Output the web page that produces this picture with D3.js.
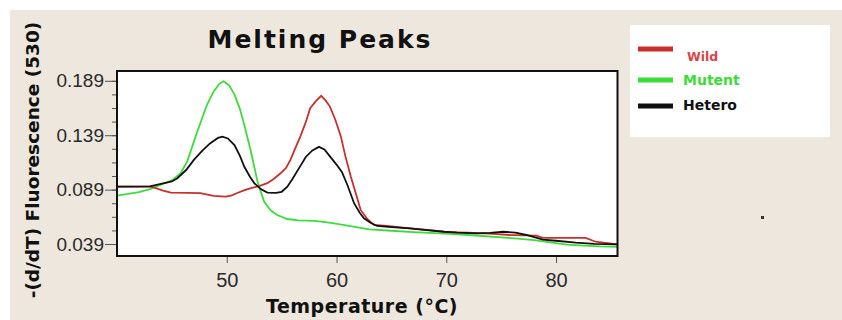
<!DOCTYPE html>
<html lang="en">
<head>
  <meta charset="UTF-8">
  <title>Melting Peaks</title>
  <script src="https://d3js.org/d3.v7.min.js"></script>
  <style>
    body { margin: 0; background: #fff; }
    .tick-label { font-family: "Liberation Sans", Arial, sans-serif; fill: #2a2a2a; }
    .bold { font-family: "DejaVu Sans", Verdana, sans-serif; font-weight: bold; }
  </style>
</head>
<body>
  <svg width="842" height="320"></svg>

  <script>
    // Temperature (°C) / -(d/dT) readings for each sample
    const wildT = [40, 43, 43.4, 44.2, 44.9, 46.5, 47.6, 48.8, 49.9, 50.4, 50.9, 51.5, 52.2, 53, 53.7, 54.3, 54.9, 55.4, 55.8, 56.2, 56.7, 57.2, 57.6, 58.1, 58.6, 59, 59.4, 59.9, 60.4, 60.8, 61.3, 61.8, 62.2, 62.8, 63.4, 64.6, 66.7, 68, 69.8, 71, 72, 74, 75.8, 77, 78.2, 78.8, 81, 82.7, 83.6, 85.6];
    const wildV = [0.0917, 0.0918, 0.0908, 0.0880, 0.0862, 0.0860, 0.0857, 0.0832, 0.0825, 0.0835, 0.0857, 0.0880, 0.0903, 0.0925, 0.0949, 0.0990, 0.1040, 0.1090, 0.1163, 0.1260, 0.1377, 0.1510, 0.1639, 0.1700, 0.1752, 0.1710, 0.1653, 0.1530, 0.1377, 0.1200, 0.1010, 0.0840, 0.0703, 0.0620, 0.0565, 0.0556, 0.0534, 0.0522, 0.0503, 0.0498, 0.0494, 0.0485, 0.0473, 0.0470, 0.0468, 0.0447, 0.0447, 0.0447, 0.0411, 0.0387];

    const mutentT = [40, 41, 42, 43, 44, 45, 45.8, 46.4, 47.3, 48.2, 48.8, 49.3, 49.7, 50.2, 50.7, 51.2, 51.6, 52.2, 52.8, 53.4, 54, 54.6, 55.5, 56.5, 58, 59.5, 61, 63, 65, 67, 69, 71, 73, 75, 76.5, 78, 79.5, 81, 82.5, 84, 85.6];
    const mutentV = [0.0835, 0.0850, 0.0868, 0.0895, 0.0935, 0.0975, 0.1040, 0.1150, 0.1420, 0.1670, 0.1790, 0.1860, 0.1885, 0.1850, 0.1765, 0.1630, 0.1485, 0.1240, 0.0965, 0.0780, 0.0700, 0.0657, 0.0620, 0.0608, 0.0602, 0.0585, 0.0560, 0.0525, 0.0512, 0.0500, 0.0490, 0.0478, 0.0466, 0.0452, 0.0440, 0.0425, 0.0405, 0.0385, 0.0375, 0.0368, 0.0365];

    const heteroT = [40, 43, 44, 45, 45.5, 46.3, 47, 47.8, 48.5, 49.2, 49.6, 50.1, 50.7, 51.2, 51.6, 52.1, 52.5, 53.1, 53.7, 54.5, 55, 55.5, 56, 56.6, 57.2, 57.8, 58.4, 58.9, 59.4, 60, 60.5, 61, 61.6, 62.1, 62.5, 63.1, 63.7, 65, 66.7, 68, 69.8, 71, 72.8, 74, 75.2, 76.3, 77.3, 78.8, 80, 81.8, 83.5, 85.6];
    const heteroV = [0.0917, 0.0920, 0.0942, 0.0965, 0.0995, 0.1070, 0.1163, 0.1250, 0.1317, 0.1365, 0.1377, 0.1360, 0.1300, 0.1200, 0.1100, 0.1010, 0.0950, 0.0895, 0.0862, 0.0860, 0.0870, 0.0915, 0.0990, 0.1090, 0.1190, 0.1250, 0.1283, 0.1260, 0.1195, 0.1120, 0.1050, 0.0930, 0.0765, 0.0680, 0.0627, 0.0585, 0.0556, 0.0545, 0.0534, 0.0520, 0.0503, 0.0495, 0.0488, 0.0493, 0.0503, 0.0495, 0.0473, 0.0430, 0.0420, 0.0402, 0.0392, 0.0387];

    const xTicks = [50, 60, 70, 80];
    const yTicks = [0.039, 0.089, 0.139, 0.189];
    const seriesNames = ["Wild", "Mutent", "Hetero"];
    const seriesColors = ["#c8302c", "#3ddc3a", "#111111"];

    const svg = d3.select("svg");

    // page background (beige panel with a thin white margin)
    svg.append("rect").attr("x", 0).attr("y", 0).attr("width", 842).attr("height", 320).attr("fill", "#fff");
    svg.append("rect").attr("x", 10).attr("y", 10).attr("width", 832).attr("height", 310).attr("fill", "#ede7de");

    const plotL = 117, plotR = 617.5, plotT = 71, plotB = 256;

    const x = d3.scaleLinear().domain([40, 85.6]).range([plotL, plotR]);
    const y = d3.scaleLinear().domain([0.028, 0.198]).range([plotB, plotT]);

    svg.append("rect")
      .attr("x", plotL).attr("y", plotT)
      .attr("width", plotR - plotL).attr("height", plotB - plotT)
      .attr("fill", "#fff");

    svg.append("clipPath").attr("id", "clip")
      .append("rect")
      .attr("x", plotL).attr("y", plotT)
      .attr("width", plotR - plotL).attr("height", plotB - plotT);

    const line = d3.line()
      .x(d => x(d[0]))
      .y(d => y(d[1]));

    const series = [
      { name: "Mutent", color: seriesColors[1], pts: d3.zip(mutentT, mutentV) },
      { name: "Wild", color: seriesColors[0], pts: d3.zip(wildT, wildV) },
      { name: "Hetero", color: seriesColors[2], pts: d3.zip(heteroT, heteroV) }
    ];

    svg.append("g").attr("clip-path", "url(#clip)")
      .selectAll("path")
      .data(series)
      .enter().append("path")
      .attr("d", d => line(d.pts))
      .attr("fill", "none")
      .attr("stroke", d => d.color)
      .attr("stroke-width", 1.8);

    // x axis
    const xAxis = svg.append("g")
      .attr("transform", `translate(0,${plotB})`)
      .call(d3.axisBottom(x).tickValues(xTicks).tickSize(7).tickPadding(10).tickFormat(d3.format("d")));
    xAxis.select(".domain").remove();
    xAxis.selectAll("line").attr("stroke", "#555");
    xAxis.selectAll("text").attr("class", "tick-label").attr("font-size", 20);

    // y axis with minor ticks
    const minor = d3.range(0.039 - 0.0125, 0.198, 0.0125).filter(v => v >= 0.028 && v <= 0.198);
    svg.append("g")
      .attr("transform", `translate(${plotL},0)`)
      .call(d3.axisLeft(y).tickValues(minor).tickSize(5).tickFormat(""))
      .call(g => g.select(".domain").remove())
      .selectAll("line").attr("stroke", "#555");

    const yAxis = svg.append("g")
      .attr("transform", `translate(${plotL},0)`)
      .call(d3.axisLeft(y).tickValues(yTicks).tickSize(12).tickPadding(1).tickFormat(d3.format(".3f")));
    yAxis.select(".domain").remove();
    yAxis.selectAll("line").attr("stroke", "#555");
    yAxis.selectAll("text").attr("class", "tick-label").attr("font-size", 19);

    // frame
    svg.append("rect")
      .attr("x", plotL).attr("y", plotT)
      .attr("width", plotR - plotL).attr("height", plotB - plotT)
      .attr("fill", "none")
      .attr("stroke", "#111")
      .attr("stroke-width", 2);

    // titles
    svg.append("text")
      .attr("class", "bold")
      .attr("x", 320).attr("y", 48)
      .attr("text-anchor", "middle")
      .attr("font-size", 25)
      .attr("letter-spacing", 2)
      .attr("fill", "#111")
      .text("Melting Peaks");

    svg.append("text")
      .attr("class", "bold")
      .attr("x", 362).attr("y", 313)
      .attr("text-anchor", "middle")
      .attr("font-size", 19)
      .attr("letter-spacing", 0.5)
      .attr("fill", "#111")
      .text("Temperature (°C)");

    svg.append("text")
      .attr("class", "bold")
      .attr("transform", "translate(39,160) rotate(-90)")
      .attr("text-anchor", "middle")
      .attr("font-size", 18.5)
      .attr("fill", "#111")
      .text("-(d/dT) Fluorescence (530)");

    // legend
    const legend = svg.append("g");
    legend.append("rect")
      .attr("x", 630).attr("y", 25)
      .attr("width", 200).attr("height", 112)
      .attr("fill", "#fff");

    const legendY = [49, 80, 106];
    const legendTextY = [61, 85, 110];
    const legendSize = [12.5, 14, 14];
    const legendTextColors = ["#d8464a", "#3ddc3a", "#111"];

    seriesNames.forEach((name, i) => {
      legend.append("line")
        .attr("x1", 638).attr("x2", 673)
        .attr("y1", legendY[i]).attr("y2", legendY[i])
        .attr("stroke", seriesColors[i])
        .attr("stroke-width", 5);
      legend.append("text")
        .attr("class", "bold")
        .attr("x", i === 0 ? 687 : 683)
        .attr("y", legendTextY[i])
        .attr("font-size", legendSize[i])
        .attr("fill", legendTextColors[i])
        .text(name);
    });

    // stray dot on the panel
    svg.append("rect")
      .attr("x", 761).attr("y", 216)
      .attr("width", 3).attr("height", 3)
      .attr("fill", "#333");
  </script>
</body>
</html>
